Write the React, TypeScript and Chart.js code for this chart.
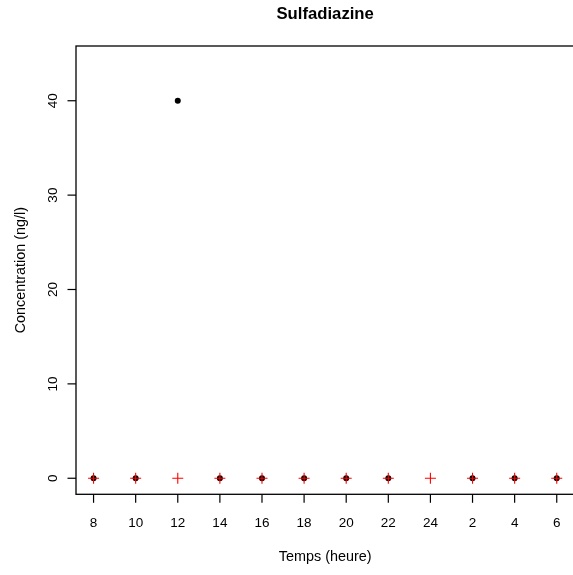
import React, { useEffect, useRef } from "react";
import { Chart, registerables } from "chart.js";

Chart.register(...registerables);

// Sampling hours (one measurement per slot, from 8h to 6h the next morning)
const heures: string[] = ["8", "10", "12", "14", "16", "18", "20", "22", "24", "2", "4", "6"];
// Measured concentrations (ng/l); null where no measurement exists
const mesures: (number | null)[] = [0, 0, 40, 0, 0, 0, 0, 0, null, 0, 0, 0];
// Second series, plotted as red crosses
const controles: number[] = [0, 0, 0, 0, 0, 0, 0, 0, 0, 0, 0, 0];
// Y axis tick values
const yTicks: number[] = [0, 10, 20, 30, 40];

const TITLE = "Sulfadiazine";
const X_LABEL = "Temps (heure)";
const Y_LABEL = "Concentration (ng/l)";
const FONT = '"Liberation Sans", Arial, sans-serif';

const W = 600;
const H = 575;

const baseAxesPlugin = {
  id: "baseAxes",
  afterDraw(chart: any) {
    const { ctx, chartArea, scales } = chart;
    const { left, right, top, bottom } = chartArea;
    const xs = scales.x;
    const ys = scales.y;
    ctx.save();

    // plot box
    ctx.strokeStyle = "#000";
    ctx.lineWidth = 1.3;
    ctx.strokeRect(left, top, right - left, bottom - top);

    // x ticks and labels
    ctx.lineWidth = 1.2;
    ctx.fillStyle = "#000";
    ctx.font = `13.5px ${FONT}`;
    ctx.textAlign = "center";
    ctx.textBaseline = "alphabetic";
    heures.forEach((h, i) => {
      const px = xs.getPixelForValue(i + 1);
      ctx.beginPath();
      ctx.moveTo(px, bottom);
      ctx.lineTo(px, bottom + 8.5);
      ctx.stroke();
      ctx.fillText(h, px, 527);
    });

    // y ticks and rotated labels
    yTicks.forEach((v) => {
      const py = ys.getPixelForValue(v);
      ctx.beginPath();
      ctx.moveTo(left, py);
      ctx.lineTo(left - 8.5, py);
      ctx.stroke();
      ctx.save();
      ctx.translate(56.5, py);
      ctx.rotate(-Math.PI / 2);
      ctx.textAlign = "center";
      ctx.fillText(String(v), 0, 0);
      ctx.restore();
    });

    const cx = (left + right) / 2;

    // title
    ctx.font = `bold 16.7px ${FONT}`;
    ctx.textAlign = "center";
    ctx.fillText(TITLE, cx, 19);

    // axis titles
    ctx.font = `14.4px ${FONT}`;
    ctx.fillText(X_LABEL, cx, 561);

    ctx.save();
    ctx.translate(24.5, (top + bottom) / 2);
    ctx.rotate(-Math.PI / 2);
    ctx.fillText(Y_LABEL, 0, 0);
    ctx.restore();

    ctx.restore();
  },
};

export default function App() {
  const canvasRef = useRef<HTMLCanvasElement | null>(null);

  useEffect(() => {
    if (!canvasRef.current) return;

    const mesuresData = mesures
      .map((y, i) => (y === null ? null : { x: i + 1, y }))
      .filter((p) => p !== null) as { x: number; y: number }[];
    const controlesData = controles.map((y, i) => ({ x: i + 1, y }));

    const chart = new Chart(canvasRef.current, {
      type: "scatter",
      data: {
        datasets: [
          {
            label: "controles",
            data: controlesData,
            pointStyle: "cross",
            pointRadius: 5.5,
            pointBorderWidth: 1.1,
            borderColor: "#ff0000",
            backgroundColor: "#ff0000",
            order: 0,
          },
          {
            label: "mesures",
            data: mesuresData,
            pointStyle: "circle",
            pointRadius: 3,
            pointBorderWidth: 0,
            backgroundColor: "#000000",
            borderColor: "#000000",
            order: 1,
          },
        ],
      },
      options: {
        responsive: false,
        animation: false,
        devicePixelRatio: 1,
        layout: { padding: { left: 76, top: 46, right: W - 574.3, bottom: H - 494.3 } },
        scales: {
          x: { type: "linear", min: 0.583, max: 12.417, display: false },
          y: { type: "linear", min: -1.7, max: 45.8, display: false },
        },
        plugins: {
          legend: { display: false },
          tooltip: { enabled: false },
          title: { display: false },
        },
      },
      plugins: [baseAxesPlugin],
    });

    return () => chart.destroy();
  }, []);

  return (
    <div
      style={{
        position: "fixed",
        left: 0,
        top: 0,
        width: 573,
        height: 575,
        overflow: "hidden",
        background: "#fff",
      }}
    >
      <canvas ref={canvasRef} width={W} height={H} style={{ width: W, height: H, display: "block" }} />
    </div>
  );
}
